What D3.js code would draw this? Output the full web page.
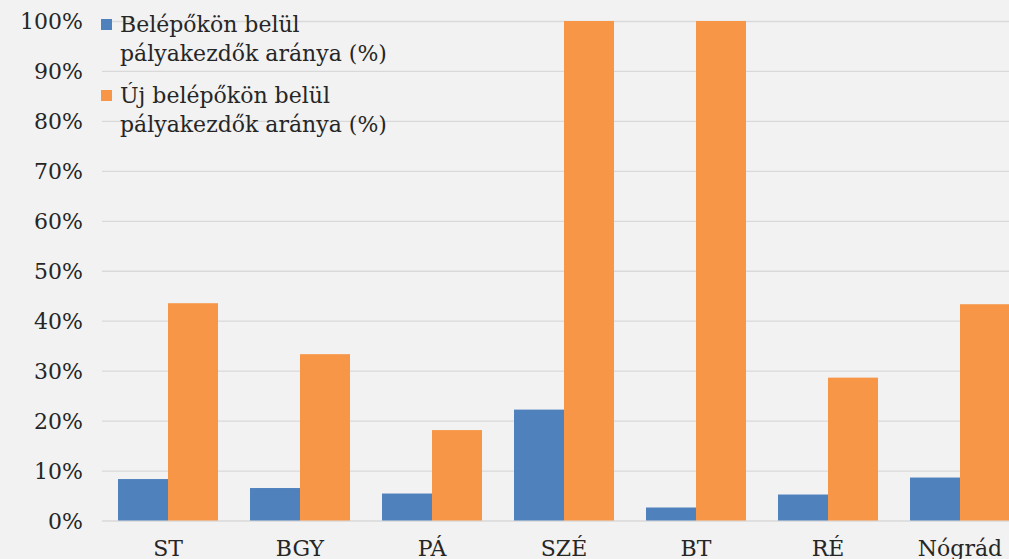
<!DOCTYPE html>
<html>
<head>
<meta charset="utf-8">
<script src="https://cdn.jsdelivr.net/npm/d3@7"></script>
<style>
  body { margin: 0; background: #f2f2f2; overflow: hidden; }
  svg { display: block; font-family: 'DejaVu Serif', serif; }
</style>
</head>
<body>
<script>
const categories = ['ST', 'BGY', 'PÁ', 'SZÉ', 'BT', 'RÉ', 'Nógrád'];
const seriesNames = ['Belépőkön belül pályakezdők aránya (%)', 'Új belépőkön belül pályakezdők aránya (%)'];
const belepok = [8.3, 6.5, 5.4, 22.2, 2.6, 5.2, 8.6];
const ujBelepok = [43.5, 33.3, 18.1, 100, 100, 28.6, 43.3];
const yTicks = [0, 10, 20, 30, 40, 50, 60, 70, 80, 90, 100];
const colors = ['#4f81bd', '#f79646'];

const wWidth = 1009;
const wHeight = 559;
const plot = {left: 102, right: 1026, top: 21, bottom: 520.5};
const fontSize = 22;

const svg = d3.select('body').append('svg')
    .attr('width', wWidth)
    .attr('height', wHeight);

svg.append('rect')
    .attr('width', wWidth)
    .attr('height', wHeight)
    .attr('fill', '#f2f2f2');

const x = d3.scaleBand()
    .domain(categories)
    .range([plot.left, plot.right])
    .paddingInner(32 / 132)
    .paddingOuter(16 / 132);

const xSub = d3.scaleBand()
    .domain([0, 1])
    .range([0, x.bandwidth()]);

const y = d3.scaleLinear()
    .domain([0, 100])
    .range([plot.bottom, plot.top]);

// gridlines + y labels
const yAxis = d3.axisLeft(y)
    .tickValues(yTicks)
    .tickSize(-(plot.right - plot.left))
    .tickPadding(19)
    .tickFormat(function(d) { return d + '%'; });

const gy = svg.append('g')
    .attr('transform', 'translate(' + plot.left + ',0)')
    .call(yAxis);
gy.select('.domain').remove();
gy.selectAll('.tick line')
    .attr('stroke', '#d9d9d9')
    .attr('stroke-width', 1.3);
gy.selectAll('.tick text')
    .attr('fill', '#262626')
    .attr('font-size', fontSize)
    .attr('font-family', 'DejaVu Serif')
    .attr('dy', '0.36em');

// bars
const data = categories.map(function(c, i) {
    return {cat: c, vals: [belepok[i], ujBelepok[i]]};
});

const group = svg.selectAll('.group')
    .data(data)
    .enter().append('g')
    .attr('class', 'group')
    .attr('transform', function(d) { return 'translate(' + x(d.cat) + ',0)'; });

group.selectAll('rect')
    .data(function(d) { return d.vals.map(function(v, k) { return {k: k, v: v}; }); })
    .enter().append('rect')
    .attr('x', function(d) { return xSub(d.k); })
    .attr('width', xSub.bandwidth())
    .attr('y', function(d) { return y(d.v); })
    .attr('height', function(d) { return y(0) - y(d.v); })
    .attr('fill', function(d) { return colors[d.k]; });

// category labels
svg.append('g')
    .selectAll('text')
    .data(categories)
    .enter().append('text')
    .attr('x', function(d) { return x(d) + x.bandwidth() / 2; })
    .attr('y', 556)
    .attr('text-anchor', 'middle')
    .attr('font-size', fontSize)
    .attr('fill', '#262626')
    .text(function(d) { return d; });

// legend
const legendLines = [
    ['Belépőkön belül', 'pályakezdők aránya (%)'],
    ['Új belépőkön belül', 'pályakezdők aránya (%)']
];
const legend = svg.append('g');
legendLines.forEach(function(lines, i) {
    const base = 32 + i * 71;
    legend.append('rect')
        .attr('x', 101)
        .attr('y', base - 13)
        .attr('width', 11)
        .attr('height', 11)
        .attr('fill', colors[i]);
    lines.forEach(function(t, j) {
        legend.append('text')
            .attr('x', 120)
            .attr('y', base + j * 29)
            .attr('font-size', fontSize)
            .attr('fill', '#262626')
            .text(t);
    });
});
</script>
</body>
</html>
